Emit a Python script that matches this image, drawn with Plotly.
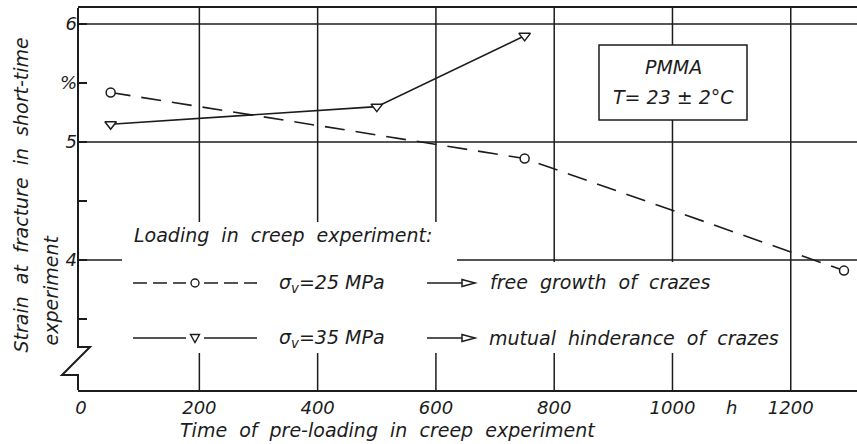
import plotly.graph_objects as go

# ---------------- data ----------------
time_25 = [50, 750, 1290]          # sigma_v = 25 MPa (dashed, circles)
strain_25 = [5.42, 4.86, 3.91]
time_35 = [50, 500, 750]           # sigma_v = 35 MPa (solid, triangles)
strain_35 = [5.15, 5.30, 5.90]

x_tick_vals = [0, 200, 400, 600, 800, 1000, 1100, 1200]
x_tick_text = ["0", "200", "400", "600", "800", "1000", "h", "1200"]
x_grid_vals = [200, 400, 600, 800, 1000, 1200]
y_tick_vals = [4, 5, 5.5, 6]
y_tick_text = ["4", "5", "%", "6"]
y_minor_vals = [3.5, 4.5]
y_grid_vals = [4, 5, 6]

# ---------------- layout geometry ----------------
W, H = 857, 444
ML, MR, MT, MB = 78, 0, 8, 54
X_RANGE = [-5.2, 1312]
Y_RANGE = [2.898, 6.136]
INK = "#1c1c1c"
FONT = "DejaVu Sans"
SP = "\u00a0 "   # wide word spacing like the lettering of the original


def px_x(px):
    return (px - ML) / (W - ML - MR)


def px_y(py):
    return (H - MB - py) / (H - MT - MB)


def ifont(size):
    return dict(family=FONT, size=size, color=INK, style="italic")


def wide(s):
    return s.replace(" ", SP)


fig = go.Figure()

fig.add_trace(go.Scatter(
    x=time_25, y=strain_25, mode="lines+markers", showlegend=False,
    line=dict(color=INK, width=1.6, dash="20px,11px"),
    marker=dict(symbol="circle", size=9, color="white", line=dict(color=INK, width=1.5)),
))
fig.add_trace(go.Scatter(
    x=time_35, y=strain_35, mode="lines+markers", showlegend=False,
    line=dict(color=INK, width=1.6),
    marker=dict(symbol="triangle-down", size=10, color="white", line=dict(color=INK, width=1.5)),
))

shapes = []
# grid lines
for v in x_grid_vals:
    shapes.append(dict(type="line", xref="x", yref="paper", x0=v, x1=v, y0=0, y1=1,
                       line=dict(color=INK, width=1.5), layer="below"))
for v in y_grid_vals:
    shapes.append(dict(type="line", xref="paper", yref="y", x0=0, x1=1, y0=v, y1=v,
                       line=dict(color=INK, width=1.5), layer="below"))
# white masks behind the legend text
shapes.append(dict(type="rect", xref="paper", yref="paper",
                   x0=px_x(122), x1=px_x(457), y0=px_y(353), y1=px_y(222),
                   fillcolor="white", line=dict(width=0), layer="below"))
shapes.append(dict(type="rect", xref="paper", yref="paper",
                   x0=px_x(457), x1=px_x(740), y0=px_y(353), y1=px_y(262),
                   fillcolor="white", line=dict(width=0), layer="below"))
# PMMA box
shapes.append(dict(type="rect", xref="paper", yref="paper",
                   x0=px_x(599), x1=px_x(747), y0=px_y(120), y1=px_y(45),
                   fillcolor="white", line=dict(color=INK, width=1.5), layer="below"))
# left axis with break
yb1, yb2 = px_y(347), px_y(375)
shapes.append(dict(type="path", xref="paper", yref="paper",
                   path=f"M 0,1 L 0,{yb1} L {px_x(90)},{yb1} L {px_x(62)},{yb2} L 0,{yb2} L 0,0",
                   line=dict(color=INK, width=2)))

# legend samples
for row_y, dashed in [(283, True), (338, False)]:
    yy = px_y(row_y)
    for a, b in [(133, 186), (204, 257)]:
        shapes.append(dict(type="line", xref="paper", yref="paper",
                           x0=px_x(a), x1=px_x(b), y0=yy, y1=yy,
                           line=dict(color=INK, width=1.6, dash="14px,6px" if dashed else "solid")))
    if dashed:
        shapes.append(dict(type="circle", xref="paper", yref="paper",
                           xsizemode="pixel", ysizemode="pixel",
                           xanchor=px_x(195), yanchor=yy, x0=-4, x1=4, y0=-4, y1=4,
                           fillcolor="white", line=dict(color=INK, width=1.4)))
    else:
        shapes.append(dict(type="path", xref="paper", yref="paper",
                           xsizemode="pixel", ysizemode="pixel",
                           xanchor=px_x(195), yanchor=yy,
                           path="M -4.5,3.5 L 4.5,3.5 L 0,-4.5 Z",
                           fillcolor="white", line=dict(color=INK, width=1.4)))
    # arrow
    shapes.append(dict(type="line", xref="paper", yref="paper",
                       x0=px_x(427), x1=px_x(462), y0=yy, y1=yy,
                       line=dict(color=INK, width=1.6)))
    shapes.append(dict(type="path", xref="paper", yref="paper",
                       xsizemode="pixel", ysizemode="pixel",
                       xanchor=px_x(462), yanchor=yy,
                       path="M 0,3.5 L 13,0 L 0,-3.5 Z",
                       fillcolor="white", line=dict(color=INK, width=1.5)))

annotations = [
    dict(text=wide("Loading in creep experiment:"), x=px_x(132), y=px_y(235),
         xanchor="left", yanchor="middle", font=ifont(19)),
    dict(text="σ<sub>v</sub>=25 MPa", x=px_x(277), y=px_y(283),
         xanchor="left", yanchor="middle", font=ifont(19)),
    dict(text="σ<sub>v</sub>=35 MPa", x=px_x(277), y=px_y(338),
         xanchor="left", yanchor="middle", font=ifont(19)),
    dict(text=wide("free growth of crazes"), x=px_x(488), y=px_y(282),
         xanchor="left", yanchor="middle", font=ifont(19)),
    dict(text=wide("mutual hinderance of crazes"), x=px_x(487), y=px_y(338),
         xanchor="left", yanchor="middle", font=ifont(19)),
    dict(text="PMMA", x=px_x(673), y=px_y(67), xanchor="center", yanchor="middle", font=ifont(19)),
    dict(text="T= 23 ± 2°C", x=px_x(673), y=px_y(97), xanchor="center", yanchor="middle", font=ifont(19)),
    dict(text=wide("Strain at fracture in short-time"), x=px_x(20), y=px_y(355), textangle=-90,
         xanchor="center", yanchor="bottom", font=ifont(19)),
    dict(text="experiment", x=px_x(50), y=px_y(348), textangle=-90,
         xanchor="center", yanchor="bottom", font=ifont(19)),
    dict(text=wide("Time of pre-loading in creep experiment"), x=px_x(178), y=px_y(430),
         xanchor="left", yanchor="middle", font=ifont(19)),
]
for a in annotations:
    a.update(xref="paper", yref="paper", showarrow=False)

fig.update_layout(
    width=W, height=H,
    margin=dict(l=ML, r=MR, t=MT, b=MB, pad=0),
    paper_bgcolor="white", plot_bgcolor="white",
    shapes=shapes, annotations=annotations,
    xaxis=dict(range=X_RANGE, tickmode="array", tickvals=x_tick_vals, ticktext=x_tick_text,
               showgrid=False, zeroline=False, ticks="", showline=True, mirror=True,
               linecolor=INK, linewidth=2, tickfont=ifont(18)),
    yaxis=dict(range=Y_RANGE, tickmode="array", tickvals=y_tick_vals, ticktext=y_tick_text,
               showgrid=False, zeroline=False, showline=False, ticks="inside", ticklen=9,
               tickwidth=1.5, tickcolor=INK, tickfont=ifont(18),
               minor=dict(tickmode="array", tickvals=y_minor_vals, ticks="inside", ticklen=9,
                          tickwidth=1.5, tickcolor=INK, showgrid=False)),
)

fig.write_html("out.html", config={"displayModeBar": False},
               post_script="document.body.style.margin='0px';")
